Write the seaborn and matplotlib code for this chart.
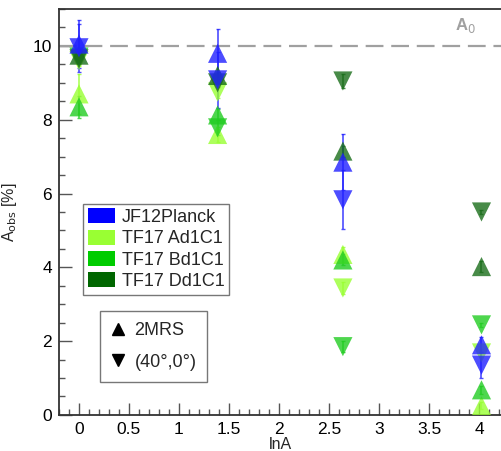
import numpy as np
import pandas as pd
import matplotlib
matplotlib.use("Agg")
import matplotlib.pyplot as plt
from matplotlib.patches import Patch
from matplotlib.lines import Line2D
from matplotlib.ticker import MultipleLocator
import seaborn as sns

# lnA of the four primaries (p, He, N, Fe)
lnA = [0.0, 1.386, 2.639, 4.025]

models = ["JF12Planck", "TF17 Ad1C1", "TF17 Bd1C1", "TF17 Dd1C1"]
model_colors = ["#0000ff", "#99ff33", "#00cc00", "#006600"]

# observed anisotropy [%], 2MRS (up) and (40°,0°) (down)
jf12_up = [10.05, 9.80, 6.85, 1.90]
jf12_up_err = [0.65, 0.65, 0.75, 0.20]
jf12_dn = [9.95, 9.08, 5.83, 1.35]
jf12_dn_err = [0.65, 0.75, 0.80, 0.35]

ad_up = [8.70, 7.60, 4.35, 0.25]
ad_up_err = [0.55, 0.20, 0.20, 0.10]
ad_dn = [9.60, 8.75, 3.44, 1.68]
ad_dn_err = [0.15, 0.15, 0.15, 0.10]

bd_up = [8.35, 8.13, 4.20, 0.68]
bd_up_err = [0.30, 0.15, 0.15, 0.10]
bd_dn = [9.70, 7.78, 1.85, 2.44]
bd_dn_err = [0.10, 0.20, 0.15, 0.05]

dd_up = [9.75, 9.20, 7.15, 4.02]
dd_up_err = [0.10, 0.10, 0.15, 0.15]
dd_dn = [9.65, 9.00, 9.05, 5.50]
dd_dn_err = [0.15, 0.10, 0.20, 0.05]

A0 = 10.0

series = {
    "TF17 Ad1C1": (ad_up, ad_up_err, ad_dn, ad_dn_err),
    "TF17 Bd1C1": (bd_up, bd_up_err, bd_dn, bd_dn_err),
    "TF17 Dd1C1": (dd_up, dd_up_err, dd_dn, dd_dn_err),
    "JF12Planck": (jf12_up, jf12_up_err, jf12_dn, jf12_dn_err),
}

rows = []
for m, (u, ue, d, de) in series.items():
    for i, x in enumerate(lnA):
        rows.append(dict(model=m, lnA=x, A=u[i], err=ue[i], dipole="2MRS"))
        rows.append(dict(model=m, lnA=x, A=d[i], err=de[i], dipole="(40°,0°)"))
df = pd.DataFrame(rows)

sns.set_theme(style="white")
plt.rcParams["font.family"] = ["Liberation Sans", "DejaVu Sans"]

fig = plt.figure(figsize=(5.02, 4.51), dpi=100)
ax = fig.add_axes([0.1175, 0.080, 0.8825, 0.90])

draw_colors = {"JF12Planck": "#2020ff", "TF17 Ad1C1": "#99ff33",
               "TF17 Bd1C1": "#22cc22", "TF17 Dd1C1": "#1a6e1a"}

ax.axhline(A0, color="#a0a0a0", lw=1.6, dashes=(8, 3.5), zorder=1)
ax.text(3.86, 10.3, r"A$_0$", color="#a0a0a0", fontsize=12, fontweight="bold",
        ha="center", va="bottom")

for m in ["TF17 Ad1C1", "TF17 Bd1C1", "TF17 Dd1C1", "JF12Planck"]:
    sub = df[df.model == m]
    ax.errorbar(sub.lnA, sub.A, yerr=sub.err, fmt="none", ecolor=draw_colors[m],
                elinewidth=1.2, capsize=1.2, alpha=0.8, zorder=2)
    sns.scatterplot(data=sub, x="lnA", y="A", style="dipole",
                    markers={"2MRS": "^", "(40°,0°)": "v"},
                    color=draw_colors[m], s=190, alpha=0.8, linewidth=0,
                    legend=False, ax=ax, zorder=3)

ax.set_xlim(-0.2, 4.23)
ax.set_ylim(0, 11)
ax.xaxis.set_major_locator(MultipleLocator(0.5))
ax.xaxis.set_minor_locator(MultipleLocator(0.1))
ax.yaxis.set_major_locator(MultipleLocator(2))
ax.yaxis.set_minor_locator(MultipleLocator(0.5))
ax.set_xticks([0, 0.5, 1, 1.5, 2, 2.5, 3, 3.5, 4])
ax.set_xticklabels(["0", "0.5", "1", "1.5", "2", "2.5", "3", "3.5", "4"])
ax.tick_params(which="both", direction="in", colors="#555555", labelcolor="black",
               labelsize=12.5, width=1)
ax.tick_params(which="major", length=9, pad=5)
ax.tick_params(which="minor", length=4.5)
ax.tick_params(axis="x", which="both", bottom=True, top=False)
ax.tick_params(axis="y", which="both", left=True, right=False)
for s in ["left", "bottom", "top"]:
    ax.spines[s].set_color("#333333")
    ax.spines[s].set_linewidth(1.3)
ax.spines["right"].set_visible(False)

ax.set_xlabel("lnA", fontsize=11.5, labelpad=0)
ax.set_ylabel(r"A$_{\rm obs}$ [%]", fontsize=11.5, labelpad=10)

handles = [Patch(facecolor=c, edgecolor="none") for c in model_colors]
leg1 = ax.legend(handles, models, loc="upper left", bbox_to_anchor=(0.055, 0.52),
                 fontsize=13, frameon=True, fancybox=False, edgecolor="#555555",
                 handlelength=1.5, handleheight=0.9, handletextpad=0.4,
                 borderpad=0.25, labelspacing=0.2, borderaxespad=0)
leg1.get_frame().set_linewidth(1)
ax.add_artist(leg1)

mk = [Line2D([], [], ls="none", marker="^", color="black", markersize=8),
      Line2D([], [], ls="none", marker="v", color="black", markersize=8)]
leg2 = ax.legend(mk, ["2MRS", "(40°,0°)"], loc="upper left",
                 bbox_to_anchor=(0.093, 0.255), fontsize=13, frameon=True,
                 fancybox=False, edgecolor="#555555", handlelength=0.8,
                 handletextpad=0.5, borderpad=0.6, labelspacing=0.8,
                 borderaxespad=0)
leg2.get_frame().set_linewidth(1)

fig.savefig("out.png", dpi=100)
